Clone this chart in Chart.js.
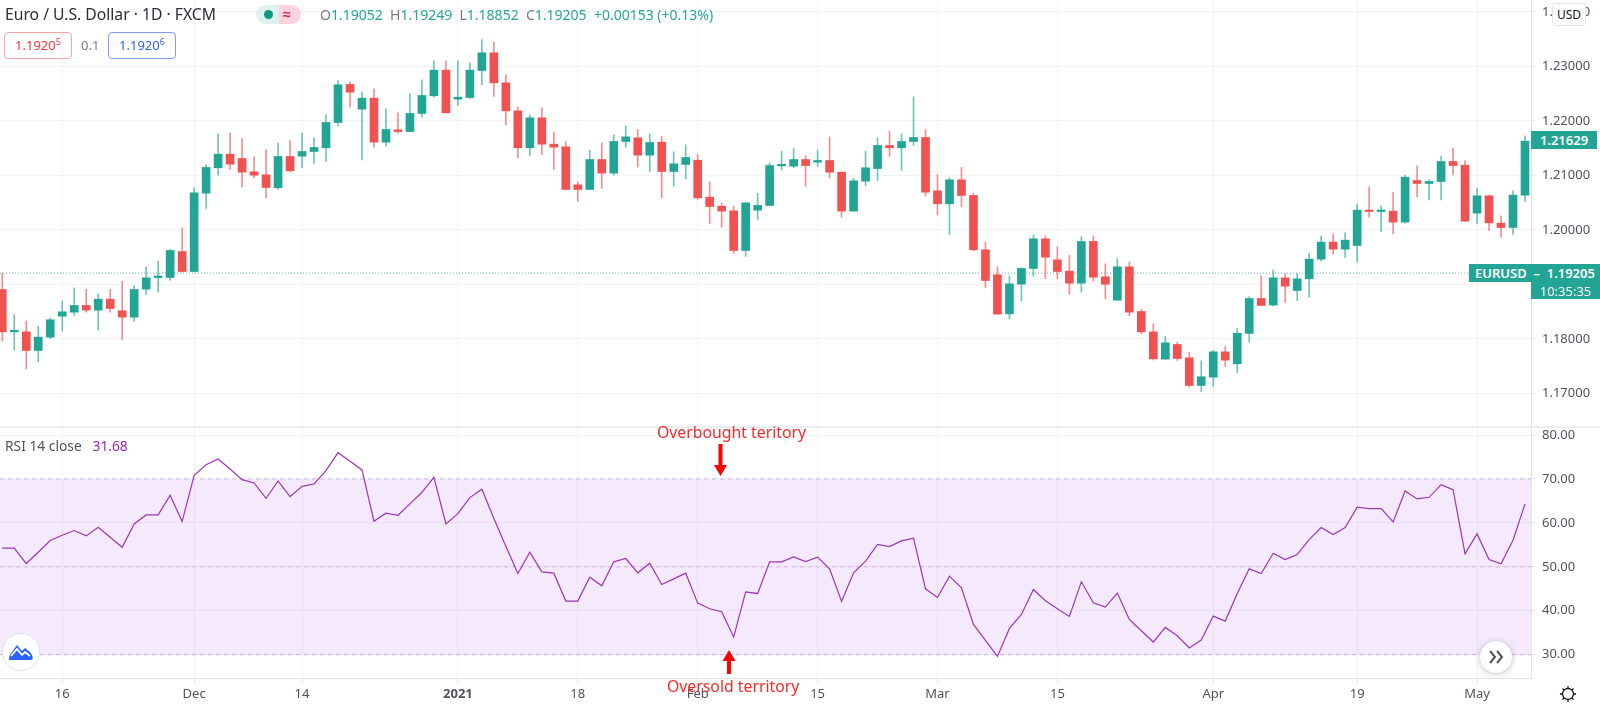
<!DOCTYPE html>
<html>
<head>
<meta charset="utf-8">
<title>EURUSD RSI</title>
<script src="https://cdn.jsdelivr.net/npm/chart.js@4/dist/chart.umd.min.js"></script>
<style>
  html, body { margin: 0; background: #fff; overflow: hidden; }
  body { width: 1600px; height: 707px; position: relative; font-family: "Noto Sans", sans-serif; color: #131722; }
  canvas { position: absolute; left: 0; }
  #priceChart { top: 0; }
  #rsiChart { top: 428px; }
  .t { position: absolute; white-space: nowrap; line-height: 1; }
  .sep { position: absolute; left: 0; width: 1600px; top: 426px; height: 2px; background: #eceef2; }
  .box { position: absolute; top: 32px; width: 66px; height: 25px; border: 1px solid; border-radius: 4px; font-size: 13px; line-height: 25px; text-align: center; background: #fff; }
  .box sup { font-size: 9px; line-height: 0; }
  .ohlc b { font-weight: 400; color: #787b86; }
  .tag { position: absolute; background: #22a594; color: #fff; font-size: 13px; line-height: 18px; height: 18px; white-space: nowrap; }
  svg { position: absolute; overflow: visible; }
</style>
</head>
<body>
<canvas id="priceChart" width="1600" height="427"></canvas>
<canvas id="rsiChart" width="1600" height="279"></canvas>
<div class="sep"></div>

<div class="t" style="left:5px;top:7px;font-size:15.700px;color:#2a2e39">Euro / U.S. Dollar · 1D · FXCM</div>
<div style="position:absolute;left:256px;top:5px;width:23px;height:19px;background:#dff1ef;border-radius:10px 0 0 10px"></div>
<div style="position:absolute;left:279px;top:5px;width:22px;height:19px;background:#fbd3df;border-radius:0 10px 10px 0"></div>
<div style="position:absolute;left:264px;top:10px;width:9px;height:9px;background:#089981;border-radius:50%"></div>
<div class="t" style="left:283px;top:7px;font-size:14px;font-weight:700;color:#d81b60">≈</div>
<div class="t ohlc" style="left:320px;top:8px;font-size:14px;color:#26a69a"><b>O</b>1.19052&nbsp; <b>H</b>1.19249&nbsp; <b>L</b>1.18852&nbsp; <b>C</b>1.19205&nbsp; +0.00153 (+0.13%)</div>

<div class="box" style="left:4px;border-color:#f7a5a5;color:#f23645">1.1920<sup>5</sup></div>
<div class="t" style="left:81px;top:39px;font-size:13px;color:#787b86">0.1</div>
<div class="box" style="left:108px;border-color:#7f9cf5;color:#2962ff">1.1920<sup>6</sup></div>

<div class="t" style="left:1552px;top:3px;width:32px;height:21px;line-height:21px;text-align:center;font-size:12px;color:#131722;background:#fff;border:1px solid #e0e3eb;border-radius:4px">USD</div>

<div class="tag" style="left:1531px;top:131px;width:66px;text-align:center;font-weight:600">1.21629</div>
<div class="tag" style="left:1469px;top:264px;width:131px;text-indent:6px;font-weight:600">EURUSD&nbsp; –&nbsp; 1.19205</div>
<div class="tag" style="left:1531px;top:282px;width:69px;text-align:center;height:17px">10:35:35</div>

<div class="t" style="left:5px;top:439px;font-size:13.800px;color:#50535e">RSI 14 close &nbsp;&nbsp;<span style="color:#9c27b0">31.68</span></div>

<div class="t" style="left:657px;top:425px;font-size:15.800px;color:#f52a2a">Overbought teritory</div>
<div class="t" style="left:667px;top:679px;font-size:15.800px;color:#f52a2a">Oversold territory</div>
<svg style="left:0;top:0" width="1600" height="707">
  <path d="M718.5 444h4v21h4.5l-6.500 11-6.500-11h4.500z" fill="#f00"/>
  <path d="M727 674h4v-13h4.500l-6.500-11-6.500 11h4.500z" fill="#f00"/>
  <circle cx="21" cy="652" r="18.500" fill="#fff" stroke="#dfe2ea"/>
  <path d="M9 660c0-4 1-6 3-8l5-7 5 6 3-3 5 4 2 3c1 2 1 5-1 5z" fill="#2962ff"/>
  <path d="M11 656l6-7 5 6 3-3 5 4" fill="none" stroke="#fff" stroke-width="1.800"/>
  <circle cx="1496" cy="657" r="16" fill="#fff" style="filter:drop-shadow(0 1px 3px rgba(0,0,0,.25))"/>
  <path d="M1490 651l5 6-5 6M1497 651l5 6-5 6" fill="none" stroke="#50535e" stroke-width="2"/>
  <circle cx="1568" cy="694" r="5.500" fill="none" stroke="#131722" stroke-width="1.300"/>
  <path d="M1568 686v2.500M1568 699.500v2.500M1560 694h2.500M1573.500 694h2.500M1562.500 688.500l1.800 1.800M1571.700 697.700l1.800 1.800M1573.500 688.500l-1.800 1.800M1564.300 697.700l-1.800 1.800" stroke="#131722" stroke-width="1.300"/>
</svg>

<script>
// price bars, one entry per trading day
const opens = [1.18905,1.18128,1.18128,1.17786,1.18031,1.18416,1.18489,1.18612,1.18526,1.18728,1.18514,1.18398,1.18911,1.19125,1.19125,1.19602,1.19235,1.20673,1.21138,1.21388,1.21309,1.21064,1.21009,1.20771,1.21346,1.21352,1.21437,1.21505,1.21969,1.22667,1.22214,1.22416,1.21609,1.21835,1.21804,1.22135,1.22459,1.2293,1.22398,1.22428,1.22924,1.23248,1.22697,1.22183,1.21505,1.22055,1.21572,1.21523,1.20826,1.2074,1.2129,1.2104,1.21621,1.21688,1.2137,1.21609,1.2107,1.21199,1.21278,1.20599,1.20434,1.20349,1.19621,1.20361,1.20447,1.21174,1.21168,1.2129,1.21242,1.21272,1.21058,1.20343,1.20893,1.21125,1.21547,1.21505,1.21621,1.21694,1.20716,1.20477,1.20917,1.2063,1.19633,1.19174,1.18459,1.19003,1.19291,1.19835,1.1945,1.19242,1.19021,1.19786,1.19138,1.18709,1.19321,1.18502,1.18128,1.17627,1.17896,1.17651,1.17144,1.17297,1.17761,1.17541,1.181,1.1874,1.18618,1.19119,1.18887,1.19101,1.19462,1.19774,1.19645,1.19713,1.20361,1.20336,1.20343,1.20141,1.20905,1.2085,1.20887,1.21254,1.21187,1.20306,1.20624,1.20122,1.20043,1.20636];
const highs = [1.19211,1.18446,1.1833,1.18232,1.18385,1.18697,1.18936,1.18911,1.18826,1.18911,1.19058,1.18979,1.19315,1.19425,1.19639,1.20037,1.20771,1.21199,1.21761,1.21774,1.21676,1.21339,1.21474,1.2159,1.21639,1.21774,1.21688,1.22116,1.2274,1.22716,1.22532,1.22587,1.2222,1.22147,1.22502,1.22752,1.23101,1.23101,1.23101,1.23064,1.23492,1.23443,1.22844,1.22251,1.22104,1.22239,1.21792,1.21621,1.20881,1.21462,1.21596,1.21743,1.21908,1.21841,1.21761,1.21713,1.21431,1.2156,1.21382,1.20881,1.20495,1.20434,1.20495,1.20667,1.21229,1.21443,1.21492,1.21364,1.21462,1.21706,1.21058,1.20948,1.21443,1.21688,1.2181,1.21761,1.2244,1.21841,1.21015,1.20954,1.21144,1.20667,1.19774,1.19321,1.19156,1.19303,1.19908,1.1989,1.19688,1.19529,1.19872,1.1989,1.19376,1.19474,1.19413,1.18538,1.18281,1.18043,1.17939,1.17755,1.17596,1.17792,1.17859,1.18196,1.18771,1.19156,1.19266,1.19199,1.19199,1.19572,1.19884,1.19927,1.19945,1.20471,1.20789,1.2044,1.20691,1.21003,1.21174,1.20917,1.21352,1.21498,1.21272,1.20765,1.20636,1.20257,1.20716,1.21725];
const lows = [1.17957,1.17792,1.1745,1.17578,1.18,1.18141,1.18428,1.18489,1.18159,1.18489,1.17988,1.18324,1.18813,1.18856,1.1907,1.19223,1.19235,1.20391,1.21003,1.21107,1.20789,1.20954,1.20587,1.2074,1.21058,1.21147,1.21217,1.21249,1.21902,1.22251,1.21282,1.21517,1.21535,1.21768,1.21804,1.22067,1.2244,1.22147,1.22281,1.2241,1.2266,1.22447,1.21927,1.21321,1.21364,1.21382,1.21107,1.2074,1.2052,1.2074,1.20758,1.21003,1.21517,1.2115,1.2107,1.20587,1.20801,1.20936,1.20557,1.2011,1.20049,1.19566,1.19511,1.2019,1.20447,1.21095,1.21138,1.20801,1.21168,1.20954,1.20232,1.20343,1.20813,1.20905,1.21346,1.21089,1.21547,1.20618,1.20275,1.19914,1.20422,1.19615,1.18936,1.18453,1.18361,1.18691,1.1915,1.19101,1.19101,1.1882,1.18856,1.19058,1.18734,1.18709,1.18422,1.18092,1.17609,1.17627,1.17602,1.17113,1.17034,1.17125,1.17492,1.17382,1.17939,1.18606,1.18606,1.18667,1.18703,1.18765,1.19425,1.1956,1.19492,1.19407,1.20226,1.19969,1.19927,1.20122,1.20606,1.2055,1.2055,1.21009,1.20159,1.20116,1.19988,1.19859,1.19914,1.2052];
const closes = [1.18128,1.18134,1.17786,1.18031,1.18349,1.18495,1.18612,1.18526,1.18728,1.18557,1.18398,1.18905,1.19119,1.19131,1.19621,1.19235,1.20679,1.21144,1.21388,1.21205,1.21058,1.21003,1.20777,1.21346,1.21083,1.21437,1.21511,1.21969,1.22661,1.22526,1.22416,1.21609,1.21841,1.21804,1.22135,1.22465,1.2293,1.22147,1.22434,1.2293,1.23248,1.22697,1.22183,1.21505,1.22055,1.21572,1.21517,1.2074,1.2074,1.2129,1.2104,1.21621,1.21706,1.2137,1.21602,1.2107,1.21211,1.21327,1.20587,1.20428,1.20343,1.19621,1.20495,1.20447,1.2118,1.2118,1.2129,1.2118,1.21272,1.21058,1.20343,1.20899,1.21138,1.21547,1.21505,1.21621,1.21694,1.20691,1.20477,1.20917,1.2063,1.19633,1.1907,1.18453,1.19009,1.19291,1.19835,1.19498,1.19235,1.19021,1.19786,1.19131,1.19003,1.19321,1.18489,1.18128,1.17633,1.17927,1.17639,1.17144,1.17303,1.17761,1.17609,1.181,1.1874,1.18612,1.19119,1.18966,1.19101,1.19462,1.19774,1.19645,1.1981,1.20361,1.20336,1.20349,1.20141,1.20966,1.2085,1.20887,1.21254,1.2118,1.20159,1.20624,1.20128,1.20043,1.20636,1.21627];
const rsiValues = [54.24,54.24,50.76,53.33,55.98,57.2,58.26,57.05,59,56.74,54.47,59.77,61.82,61.82,66.29,60.3,70.76,73.26,74.55,72.27,69.85,69.09,65.6,69.55,65.98,68.33,68.86,71.89,75.98,74.02,72.05,60.38,62.2,61.74,64.32,66.97,70.38,59.77,62.12,65.76,67.65,60.98,54.7,48.48,53.33,48.86,48.56,42.2,42.2,47.65,45.68,51.14,51.89,48.64,50.83,45.98,47.27,48.56,41.74,40.45,39.77,34.02,44.32,43.94,51.14,51.14,52.27,51.21,52.2,49.55,42.12,48.64,51.29,55.08,54.62,55.91,56.52,45,43.03,47.88,45.23,36.89,33.26,29.62,35.98,39.17,44.85,42.27,40.45,38.71,46.59,41.82,40.83,44.02,38.03,35.45,32.88,36.21,34.32,31.52,33.33,38.79,37.65,43.94,49.55,48.48,53.11,51.67,52.8,56.21,58.94,57.35,58.94,63.56,63.26,63.26,60.23,67.27,65.45,65.83,68.71,67.58,52.95,57.5,51.67,50.68,56.06,64.32];

// axes
const dateTickBars = [5, 16, 25, 38, 48, 58, 68, 78, 88, 101, 113, 123];
const dateTickLabels = ['16', 'Dec', '14', '2021', '18', 'Feb', '15', 'Mar', '15', 'Apr', '19', 'May'];
const priceTicks = [1.17, 1.18, 1.19, 1.2, 1.21, 1.22, 1.23, 1.24];
const rsiTicks = [30, 40, 50, 60, 70, 80];
const lastPrice = 1.19205;
const rsiBand = [30, 50, 70];

const xMin = -0.19, xMax = 127.5;
const FONT = '"Noto Sans", sans-serif';
const GREEN = '#22a594', RED = '#f05252';
const gridCol = '#f1f3f6', axisCol = '#e0e3eb', tickCol = '#50535e';

const bars = closes.map((c, i) => i);
const isUp = i => closes[i] >= opens[i];
const alpha = (hex, a) => hex + Math.round(a * 255).toString(16).padStart(2, '0');

// tick labels near the edges must not shrink the plot area
function noPadding(s) {
  s.paddingTop = s.paddingBottom = s.paddingLeft = s.paddingRight = 0;
}

function dateAxis(showLabels) {
  return {
    type: 'linear', min: xMin, max: xMax, offset: false,
    afterBuildTicks: s => { s.ticks = dateTickBars.map(v => ({ value: v })); },
    afterFit: s => { s.height = showLabels ? 29 : 0; noPadding(s); },
    grid: { color: gridCol, tickLength: showLabels ? 4 : 0, tickColor: axisCol, offset: false },
    border: { display: showLabels, color: axisCol },
    ticks: {
      display: showLabels, autoSkip: false, maxRotation: 0, padding: 4, color: tickCol,
      font: c => ({ family: FONT, size: 13, weight: dateTickLabels[c.index] === '2021' ? 'bold' : 'normal' }),
      callback: (v, i) => dateTickLabels[i]
    }
  };
}

function valueAxis(min, max, tickValues, digits) {
  return {
    position: 'right', min, max,
    afterBuildTicks: s => { s.ticks = tickValues.map(v => ({ value: v })); },
    afterFit: s => { s.width = 69; noPadding(s); },
    grid: { color: gridCol, tickLength: 4, tickColor: axisCol },
    border: { display: true, color: axisCol },
    ticks: {
      padding: 7, color: tickCol, font: { family: FONT, size: 13 },
      callback: v => v.toFixed(digits)
    }
  };
}

const common = {
  responsive: false, animation: false, devicePixelRatio: 1,
  layout: { padding: 0 },
  plugins: { legend: { display: false }, tooltip: { enabled: false } },
  events: []
};

new Chart(document.getElementById('priceChart'), {
  type: 'bar',
  data: {
    datasets: [
      {
        type: 'line', order: 3,
        data: [{ x: xMin, y: lastPrice }, { x: xMax, y: lastPrice }],
        borderColor: alpha(GREEN, 0.75), borderWidth: 1, borderDash: [1, 2], pointRadius: 0
      },
      {
        order: 2, grouped: false, barThickness: 1,
        data: bars.map(i => ({ x: i, y: [lows[i], highs[i]] })),
        backgroundColor: bars.map(i => alpha(isUp(i) ? GREEN : RED, 0.65))
      },
      {
        order: 1, grouped: false, barThickness: 8, minBarLength: 1.5,
        data: bars.map(i => ({ x: i, y: [opens[i], closes[i]] })),
        backgroundColor: bars.map(i => isUp(i) ? GREEN : RED)
      }
    ]
  },
  options: {
    ...common,
    scales: { x: dateAxis(false), y: valueAxis(1.16382, 1.24217, priceTicks, 5) }
  }
});

new Chart(document.getElementById('rsiChart'), {
  type: 'line',
  data: {
    datasets: [
      {
        order: 3,
        data: [{ x: xMin, y: rsiBand[2] }, { x: xMax, y: rsiBand[2] }],
        borderColor: '#c9b9d6', borderWidth: 1, borderDash: [4, 4], pointRadius: 0,
        fill: { target: { value: rsiBand[0] } }, backgroundColor: 'rgba(175,82,242,0.13)'
      },
      {
        order: 3,
        data: [{ x: xMin, y: rsiBand[1] }, { x: xMax, y: rsiBand[1] }],
        borderColor: '#d3c4e0', borderWidth: 1, borderDash: [4, 4], pointRadius: 0
      },
      {
        order: 3,
        data: [{ x: xMin, y: rsiBand[0] }, { x: xMax, y: rsiBand[0] }],
        borderColor: '#c9b9d6', borderWidth: 1, borderDash: [4, 4], pointRadius: 0
      },
      {
        order: 1,
        data: bars.map(i => ({ x: i, y: rsiValues[i] })),
        borderColor: '#9c36b5', borderWidth: 1.2, pointRadius: 0, tension: 0
      }
    ]
  },
  options: {
    ...common,
    scales: { x: dateAxis(true), y: valueAxis(24.7, 81.6, rsiTicks, 2) }
  }
});
</script>
</body>
</html>
